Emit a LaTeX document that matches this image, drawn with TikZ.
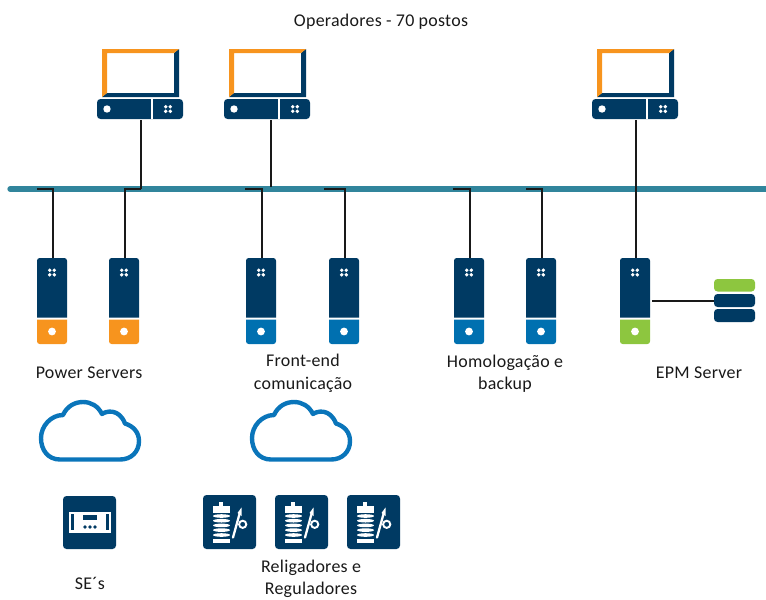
\documentclass[tikz,border=0pt]{standalone}
\usepackage{fontspec}
\setmainfont[LetterSpace=1.5]{Carlito}
\usepackage{xcolor}
\usetikzlibrary{calc}
\definecolor{navyunit}{HTML}{003A63}
\definecolor{psorange}{HTML}{F7941E}
\definecolor{feblue}{HTML}{0070B0}
\definecolor{epmgreen}{HTML}{8DC63F}
\definecolor{busteal}{HTML}{31859C}
\definecolor{cloudblue}{HTML}{0A75BA}
\tikzset{
  wire/.style={draw=black!90, line width=0.8pt},
  busline/.style={draw=busteal, line width=3pt, line cap=round},
  caption/.style={font=\fontsize{10.2pt}{12.6pt}\selectfont, align=center, text=black!90, inner sep=0pt},
  pics/towerunit/.style={code={
    \fill[navyunit] (0,59.5) [rounded corners=1.5pt] -- (0,0) -- (30,0) [sharp corners] -- (30,59.5) -- cycle;
    \fill[#1] (0,61.5) -- (30,61.5) [rounded corners=1.5pt] -- (30,86) -- (0,86) [sharp corners] -- cycle;
    \foreach \dx in {-2.3,2.3} \foreach \dy in {-2.3,2.3}
      \fill[white] (15+\dx,14.5+\dy) circle (1.9);
    \fill[white] (15,73.5) circle (3.9);
    \coordinate (-top) at (16,0);
  }},
  pics/deskunit/.style={code={
    \fill[navyunit] (77,0) -- (77,48) -- (0,48) -- (5,44) -- (72,44) -- (72,4) -- cycle;
    \fill[psorange] (0,48) -- (0,0) -- (77,0) -- (72,4) -- (5,4) -- (5,44) -- cycle;
    \fill[navyunit, rounded corners=2pt] (-5,50) rectangle (81,70);
    \draw[white, line width=0.6pt] (50,50) -- (50,70);
    \fill[white] (5,60) circle (3.7);
    \foreach \dx in {-2.3,2.3} \foreach \dy in {-2.3,2.3}
      \fill[white] (66+\dx,60+\dy) circle (1.9);
    \coordinate (-port) at (39,71);
  }},
  pics/cloudicon/.style={code={
    \draw[cloudblue, line width=2.5pt, line join=round]
      (21,59.5) .. controls (9,59.5) and (2,50) .. (2,38)
      .. controls (2,26) and (12,15) .. (24,15)
      .. controls (28,6) and (36,2) .. (44,2)
      .. controls (52,2) and (59,6) .. (63,14)
      .. controls (67,11) and (80,8) .. (86,23.5)
      .. controls (94,26) and (100,32) .. (100,41)
      .. controls (100,52) and (92,59.5) .. (81,59.5) -- cycle;
  }},
  pics/subsicon/.style={code={
    \fill[navyunit, rounded corners=2pt] (0,0) rectangle (53,53);
    \fill[white] (6,16) rectangle (48,37);
    \fill[navyunit] (8,18) rectangle (11,34);
    \fill[navyunit] (43,18) rectangle (46,34);
    \fill[navyunit] (20,19) rectangle (34,24);
    \foreach \dx in {22,27,32} \fill[navyunit] (\dx,31) circle (1.9);
  }},
  pics/reclicon/.style={code={
    \fill[navyunit, rounded corners=2pt] (0,0) rectangle (53,54);
    \fill[white] (16,6.5) rectangle (20,12);
    \fill[white] (10,11) rectangle (27,17.5);
    \foreach \dy in {21,25.7,30.4,35.1,40}
      \fill[white] (18.5,\dy) ellipse (8.5 and 1.8);
    \fill[white] (10,44) rectangle (27,48);
    \draw[white, line width=1.3pt, line cap=round] (30,42.5) -- (36.5,19);
    \fill[white] (34.5,18) -- (38.5,12.5) -- (38.5,21) -- cycle;
    \draw[white, line width=1.1pt] (39.7,29.3) circle (3.6);
  }},
  pics/stackicon/.style={code={
    \fill[epmgreen, rounded corners=2pt] (0,0) rectangle (41,12.5);
    \fill[navyunit, rounded corners=2pt] (0,15) rectangle (41,28);
    \fill[navyunit, rounded corners=2pt] (0,30) rectangle (41,43);
    \coordinate (-port) at (0,22);
  }}
}
\begin{document}
\begin{tikzpicture}[x=0.02cm, y=-0.02cm]
  \useasboundingbox (0,0) rectangle (766,599);
  \coordinate (busl) at (10,189);
  \coordinate (busr) at (770,189);
  \draw[busline] (busl) -- (busr);
  % stations
  \pic (pc1) at (102,49) {deskunit};
  \pic (pc2) at (229,49) {deskunit};
  \pic (pc3) at (597,49) {deskunit};
  % servers
  \pic (ps1) at (37,258) {towerunit=psorange};
  \pic (ps2) at (109,258) {towerunit=psorange};
  \pic (fe1) at (246,258) {towerunit=feblue};
  \pic (fe2) at (329,258) {towerunit=feblue};
  \pic (ho1) at (454,258) {towerunit=feblue};
  \pic (ho2) at (526,258) {towerunit=feblue};
  \pic (epm) at (620,258) {towerunit=epmgreen};
  \pic (stack) at (714,279) {stackicon};
  % taps on the bus
  \coordinate (tap1) at (37,189);
  \coordinate (tap2) at (141,189);
  \coordinate (tap3) at (245,189);
  \coordinate (tap4) at (271,187);
  \coordinate (tap5) at (324,189);
  \coordinate (tap6) at (453,189);
  \coordinate (tap7) at (526,189);
  \coordinate (epmport) at (652,301);
  \draw[wire] (ps1-top) |- (tap1);
  \draw[wire] (ps2-top) |- (tap2);
  \draw[wire] (fe1-top) |- (tap3);
  \draw[wire] (fe2-top) |- (tap5);
  \draw[wire] (ho1-top) |- (tap6);
  \draw[wire] (ho2-top) |- (tap7);
  \draw[wire] (pc1-port) -- (tap2);
  \draw[wire] (pc2-port -| tap4) -- (tap4);
  \draw[wire] (pc3-port) -- (pc3-port |- epm-top);
  \draw[wire] (epmport) -- (stack-port);
  % field side
  \pic (cl1) at (39,400) {cloudicon};
  \pic (cl2) at (250,400) {cloudicon};
  \pic (se) at (63,496) {subsicon};
  \pic (re1) at (203,495) {reclicon};
  \pic (re2) at (275,495) {reclicon};
  \pic (re3) at (347,495) {reclicon};
  % captions
  \node[caption] (opers) at (381,22) {Operadores - 70 postos};
  \node[caption] (pslabel) at (89,373) {Power Servers};
  \node[caption] (felabel) at (303,373) {Front-end\\[0.5pt]comunicação};
  \node[caption] (holabel) at (505,374) {Homologação e\\backup};
  \node[caption] (epmlabel) at (699,373) {EPM Server};
  \node[caption] (selabel) at (90,583) {SE´s};
  \node[caption] (relabel) at (311,579) {Religadores e\\Reguladores};
\end{tikzpicture}
\end{document}
